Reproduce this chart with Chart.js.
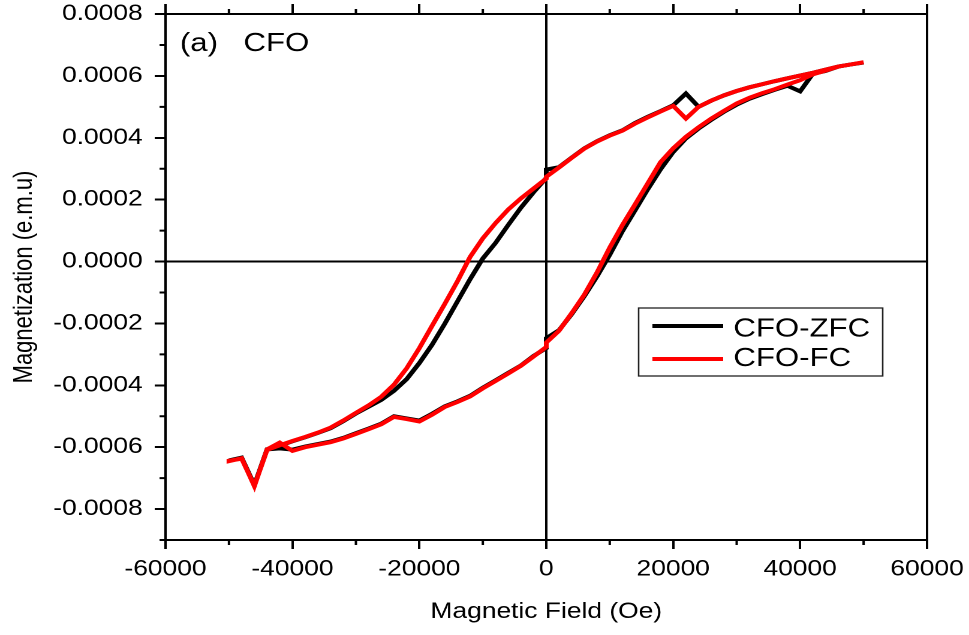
<!DOCTYPE html>
<html>
<head>
<meta charset="utf-8">
<script src="https://cdn.jsdelivr.net/npm/chart.js@4.4.1/dist/chart.umd.min.js"></script>
<style>
  html, body { margin: 0; padding: 0; background: #fff; }
  /* the plot is laid out at 808px and widened to fill the 969px page */
  #wrap { width: 808px; height: 635px; transform: scaleX(1.1993); transform-origin: 0 0; }
  canvas { display: block; }
</style>
</head>
<body>
<div id="wrap"><canvas id="c" width="808" height="635"></canvas></div>
<script>
// Hysteresis loop of CFO: descending branch (+50 kOe -> -50 kOe), then ascending branch.
const fieldDown = [50000, 48000, 46000, 44000, 42000, 40000, 38000, 36000, 34000, 32000,
  30000, 28000, 26000, 24000, 22000, 20000, 18000, 16000, 14000, 12000,
  10000, 8000, 6000, 4000, 2000, 0, 0, -2000, -4000, -6000,
  -8000, -10000, -12000, -14000, -16000, -18000, -20000, -22000, -24000, -26000,
  -28000, -30000, -32000, -34000, -36000, -38000, -40000, -42000, -44000, -46000,
  -48000, -50000];
const zfcDown = [0.000643, 0.000637, 0.000630, 0.000620, 0.000610, 0.000601, 0.000592, 0.000583, 0.000573, 0.000563,
  0.000551, 0.000537, 0.000520, 0.000500, 0.000543, 0.000505, 0.000486, 0.000468, 0.000448, 0.000424,
  0.000408, 0.000389, 0.000366, 0.000336, 0.000305, 0.000297, 0.000270, 0.000224, 0.000174, 0.000118,
  0.000060, 0.000010, -0.000057, -0.000129, -0.000201, -0.000269, -0.000328, -0.000380, -0.000418, -0.000447,
  -0.000469, -0.000491, -0.000516, -0.000539, -0.000554, -0.000568, -0.000581, -0.000595, -0.000607, -0.000722,
  -0.000634, -0.000643];
const fcDown = [0.000644, 0.000637, 0.000630, 0.000620, 0.000610, 0.000601, 0.000592, 0.000583, 0.000573, 0.000563,
  0.000551, 0.000537, 0.000520, 0.000500, 0.000462, 0.000503, 0.000485, 0.000466, 0.000446, 0.000423,
  0.000407, 0.000388, 0.000365, 0.000335, 0.000304, 0.000274, 0.000268, 0.000236, 0.000204, 0.000168,
  0.000124, 0.000075, 0.000015, -0.000064, -0.000137, -0.000208, -0.000280, -0.000345, -0.000398, -0.000437,
  -0.000465, -0.000489, -0.000514, -0.000537, -0.000553, -0.000567, -0.000580, -0.000594, -0.000609, -0.000725,
  -0.000637, -0.000644];

const fieldUp = [-50000, -48000, -46000, -44000, -42000, -40000, -38000, -36000, -34000, -32000,
  -30000, -28000, -26000, -24000, -22000, -20000, -18000, -16000, -14000, -12000,
  -10000, -8000, -6000, -4000, -2000, 0, 0, 2000, 4000, 6000,
  8000, 10000, 12000, 14000, 16000, 18000, 20000, 22000, 24000, 26000,
  28000, 30000, 32000, 34000, 36000, 38000, 40000, 42000, 44000, 46000,
  48000, 50000];
const zfcUp = [-0.000643, -0.000634, -0.000722, -0.000607, -0.000604, -0.000608, -0.000598, -0.000590, -0.000582, -0.000570,
  -0.000555, -0.000540, -0.000524, -0.000500, -0.000507, -0.000514, -0.000492, -0.000468, -0.000452, -0.000434,
  -0.000408, -0.000384, -0.000360, -0.000336, -0.000305, -0.000280, -0.000248, -0.000222, -0.000170, -0.000112,
  -0.000048, 0.000022, 0.000098, 0.000166, 0.000234, 0.000298, 0.000354, 0.000398, 0.000430, 0.000458,
  0.000484, 0.000507, 0.000526, 0.000541, 0.000555, 0.000568, 0.000550, 0.000607, 0.000616, 0.000630,
  0.000637, 0.000643];
const fcUp = [-0.000645, -0.000636, -0.000726, -0.000607, -0.000585, -0.000612, -0.000600, -0.000592, -0.000584, -0.000572,
  -0.000557, -0.000542, -0.000526, -0.000502, -0.000509, -0.000517, -0.000495, -0.000470, -0.000454, -0.000436,
  -0.000410, -0.000386, -0.000362, -0.000337, -0.000307, -0.000276, -0.000262, -0.000224, -0.000167, -0.000107,
  -0.000035, 0.000045, 0.000118, 0.000185, 0.000253, 0.000321, 0.000366, 0.000403, 0.000434, 0.000462,
  0.000487, 0.000511, 0.000529, 0.000544, 0.000557, 0.000572, 0.000586, 0.000605, 0.000617, 0.000630,
  0.000637, 0.000644];

const seriesNames = ['CFO-ZFC', 'CFO-FC'];
const seriesColors = ['#000000', '#ff0000'];
const panelLabel = ['(a)', 'CFO'];

const xTickValues = [-60000, -40000, -20000, 0, 20000, 40000, 60000];
const xTickLabels = ['-60000', '-40000', '-20000', '0', '20000', '40000', '60000'];
const xMinorValues = [-50000, -30000, -10000, 10000, 30000, 50000];
const yTickValues = [-0.0008, -0.0006, -0.0004, -0.0002, 0, 0.0002, 0.0004, 0.0006, 0.0008];
const yTickLabels = ['-0.0008', '-0.0006', '-0.0004', '-0.0002', '0.0000', '0.0002', '0.0004', '0.0006', '0.0008'];
const yMinorValues = [-0.0009, -0.0007, -0.0005, -0.0003, -0.0001, 0.0001, 0.0003, 0.0005, 0.0007];

const FONT = '"Liberation Sans", Arial, sans-serif';

function loop(fd, md, fu, mu) {
  return fd.map((h, i) => ({ x: h, y: md[i] })).concat(fu.map((h, i) => ({ x: h, y: mu[i] })));
}

function setTicks(values) {
  return scale => { scale.ticks = values.map(v => ({ value: v })); };
}

// fixed box sizes so the frame sits where it should; no extra room for edge labels
function fixSize(w, h) {
  return scale => {
    if (w !== null) scale.width = w;
    if (h !== null) scale.height = h;
    scale.paddingLeft = 0; scale.paddingRight = 0;
    scale.paddingTop = 0; scale.paddingBottom = 0;
  };
}

// white page behind the plot
const backdrop = {
  id: 'backdrop',
  beforeDraw(chart) {
    const ctx = chart.ctx;
    ctx.save();
    ctx.fillStyle = '#fff';
    ctx.fillRect(0, 0, chart.width, chart.height);
    ctx.restore();
  }
};

// short minor ticks on the bottom, top and left frame
const minorTicks = {
  id: 'minorTicks',
  afterDraw(chart) {
    const { ctx, chartArea: a, scales } = chart;
    ctx.save();
    ctx.strokeStyle = '#000';
    ctx.lineWidth = 2;
    ctx.beginPath();
    xMinorValues.forEach(v => {
      const px = scales.x.getPixelForValue(v);
      ctx.moveTo(px, a.bottom); ctx.lineTo(px, a.bottom + 5);
      ctx.moveTo(px, a.top); ctx.lineTo(px, a.top - 5);
    });
    yMinorValues.forEach(v => {
      const py = scales.y.getPixelForValue(v);
      ctx.moveTo(a.left, py); ctx.lineTo(a.left - 5, py);
    });
    ctx.stroke();
    ctx.restore();
  }
};

// panel label and boxed legend inside the plot
const annotations = {
  id: 'annotations',
  afterDraw(chart) {
    const { ctx, chartArea: a } = chart;
    ctx.save();
    ctx.fillStyle = '#000';
    ctx.font = '26px ' + FONT;
    ctx.textBaseline = 'alphabetic';
    ctx.textAlign = 'left';
    ctx.fillText(panelLabel[0], a.left + 12, a.top + 37);
    ctx.fillText(panelLabel[1], a.left + 65, a.top + 37);

    const bx = a.left + 394.5, by = 308, bw = 203.5, bh = 68;
    ctx.strokeStyle = '#222';
    ctx.lineWidth = 1.3;
    ctx.strokeRect(bx, by, bw, bh);
    const rows = [326, 359];
    const bases = [336.5, 366];
    chart.data.datasets.forEach((ds, i) => {
      ctx.strokeStyle = ds.borderColor;
      ctx.lineWidth = 4;
      ctx.beginPath();
      ctx.moveTo(bx + 11.5, rows[i]);
      ctx.lineTo(bx + 70.5, rows[i]);
      ctx.stroke();
      ctx.fillStyle = '#000';
      ctx.fillText(ds.label, bx + 79, bases[i]);
    });
    ctx.restore();
  }
};

const tickFont = { family: FONT, size: 22 };

new Chart(document.getElementById('c'), {
  type: 'line',
  data: {
    datasets: [
      { label: seriesNames[0], data: loop(fieldDown, zfcDown, fieldUp, zfcUp),
        borderColor: seriesColors[0], borderWidth: 4, pointRadius: 0, tension: 0, order: 1,
        xAxisID: 'x', yAxisID: 'y' },
      { label: seriesNames[1], data: loop(fieldDown, fcDown, fieldUp, fcUp),
        borderColor: seriesColors[1], borderWidth: 4, pointRadius: 0, tension: 0, order: 0,
        xAxisID: 'x', yAxisID: 'y' }
    ]
  },
  options: {
    responsive: false,
    devicePixelRatio: 2,
    animation: false,
    layout: { padding: 0 },
    plugins: { legend: { display: false }, tooltip: { enabled: false } },
    scales: {
      x: {
        type: 'linear', position: 'bottom', min: -60000, max: 60000,
        afterBuildTicks: setTicks(xTickValues),
        afterFit: fixSize(null, 95),
        ticks: { callback: v => xTickLabels[xTickValues.indexOf(v)], font: tickFont, color: '#000',
                 padding: 7, maxRotation: 0, autoSkip: false },
        grid: { color: c => (c.tick && c.tick.value === 0 ? '#000' : 'rgba(0,0,0,0)'), lineWidth: 2,
                tickLength: 9, tickColor: '#000', tickWidth: 2 },
        border: { display: true, color: '#000', width: 2 },
        title: { display: true, text: 'Magnetic Field (Oe)', font: tickFont, color: '#000',
                 padding: { top: 0, bottom: 10 } }
      },
      y: {
        type: 'linear', position: 'left', min: -0.0009, max: 0.0008,
        afterBuildTicks: setTicks(yTickValues),
        afterFit: fixSize(138, null),
        ticks: { callback: v => yTickLabels[yTickValues.findIndex(t => Math.abs(t - v) < 1e-9)],
                 font: tickFont, color: '#000', padding: 10, autoSkip: false },
        grid: { color: c => (c.tick && Math.abs(c.tick.value) < 1e-12 ? '#000' : 'rgba(0,0,0,0)'), lineWidth: 2,
                tickLength: 9, tickColor: '#000', tickWidth: 2 },
        border: { display: true, color: '#000', width: 2 },
        title: { display: true, text: 'Magnetization (e.m.u)', font: tickFont, color: '#000',
                 padding: { top: 7, bottom: 0 } }
      },
      x2: {
        type: 'linear', position: 'top', min: -60000, max: 60000,
        afterBuildTicks: setTicks(xTickValues),
        afterFit: fixSize(null, 14),
        ticks: { display: false },
        grid: { drawOnChartArea: false, tickLength: 10, tickColor: '#000', tickWidth: 2 },
        border: { display: true, color: '#000', width: 2 }
      },
      y2: {
        type: 'linear', position: 'right', min: -0.0009, max: 0.0008,
        afterFit: fixSize(35, null),
        ticks: { display: false },
        grid: { drawOnChartArea: false, drawTicks: false },
        border: { display: true, color: '#000', width: 2 }
      }
    }
  },
  plugins: [backdrop, minorTicks, annotations]
});
</script>
</body>
</html>
